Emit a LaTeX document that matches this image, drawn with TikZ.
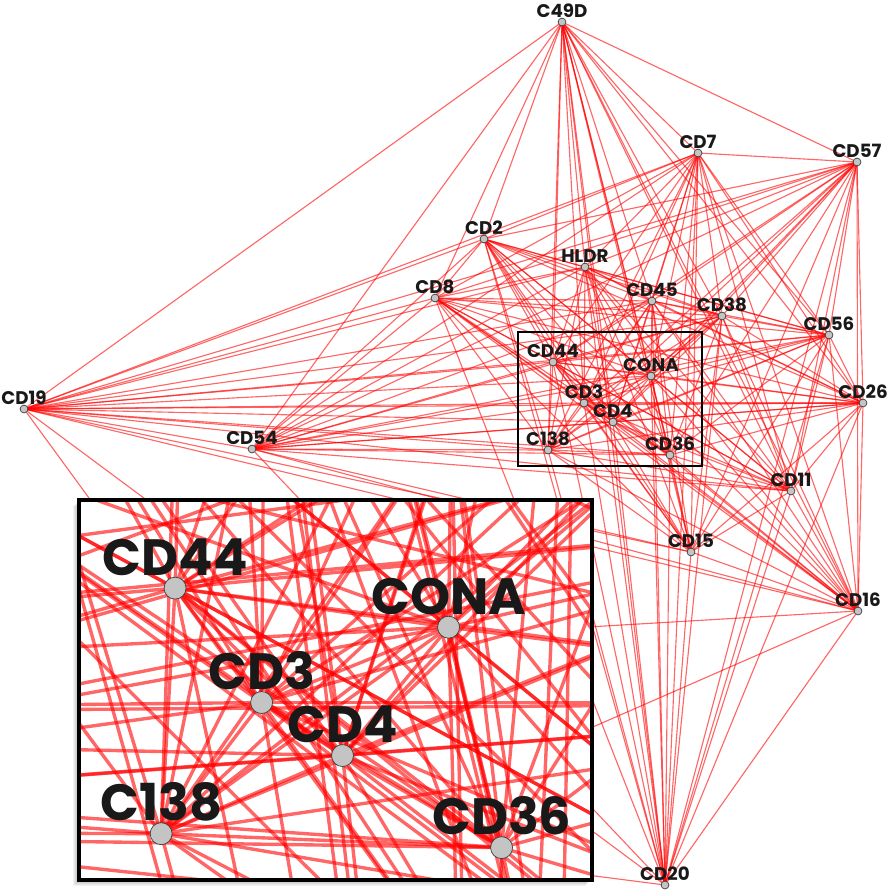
\documentclass[tikz,border=0pt]{standalone}
\usepackage{fontspec}
\setmainfont{Poppins}

\definecolor{dotgray}{RGB}{196,196,196}
\definecolor{rimgray}{RGB}{55,65,65}
\tikzset{
	link/.style={red, opacity=0.6},
	vertex/.style={circle, draw=rimgray, fill=dotgray, line width=0.5pt, minimum size=5.6pt, inner sep=0pt, label distance=1.5pt},
	tag/.style={font=\bfseries\fontsize{13}{13}\selectfont, inner sep=0pt, text=black!90}
}

\def\cdlist{C49D,CD7,CD57,CD2,HLDR,CD8,CD45,CD38,CD56,CD44,CONA,CD19,CD26,CD3,CD4,CD54,C138,CD36,CD11,CD15,CD16,CD20}
\def\zoomlist{CD44,CONA,CD3,CD4,C138,CD36}

% places of the markers
\newcommand{\cdplace}{%
	\coordinate (C49D) at (562,22);
	\coordinate (CD7) at (698,153);
	\coordinate (CD57) at (857,162);
	\coordinate (CD2) at (484,239);
	\coordinate (HLDR) at (585,267);
	\coordinate (CD8) at (435,298);
	\coordinate (CD45) at (652,301);
	\coordinate (CD38) at (722,316);
	\coordinate (CD56) at (829,335);
	\coordinate (CD44) at (553,362);
	\coordinate (CONA) at (651,376);
	\coordinate (CD19) at (24,409);
	\coordinate (CD26) at (863,403);
	\coordinate (CD3) at (584,403);
	\coordinate (CD4) at (613,422);
	\coordinate (CD54) at (252,449);
	\coordinate (C138) at (548,450);
	\coordinate (CD36) at (670,455);
	\coordinate (CD11) at (791,491);
	\coordinate (CD15) at (691,552);
	\coordinate (CD16) at (858,611);
	\coordinate (CD20) at (665,885);
	\coordinate (H1) at (330,842);
	\coordinate (H2) at (200,650);
}

% every pair linked, #1 = width of the links
\newcommand{\cdlinks}[1]{%
	\foreach \a [count=\i] in \cdlist {
		\foreach \b [count=\j] in \cdlist {
			\ifnum\j>\i \draw[link, line width=#1] (\a) -- (\b); \fi
		}
	}
	\foreach \a/\b in {H2/CD19,H2/CD16,H1/CD16,H1/CD20}
		\draw[link, line width=#1] (\a) -- (\b);
}

% markers with their names
\newcommand{\cdspots}[1]{%
	\foreach \a in #1
		\node[vertex, label={[tag]above:\a}] (n\a) at (\a) {};
}

\begin{document}
\begin{tikzpicture}[x=0.025cm, y=-0.025cm]
	\useasboundingbox (0,0) rectangle (890,895);

	\cdplace
	\cdlinks{0.8pt}
	\cdspots{\cdlist}

	\draw[line width=2pt] (518,332) rectangle (702,466);

	% zoomed part
	\foreach \k in {1,...,6}
		\fill[black, opacity=0.05] (79-\k,500+\k) rectangle (592-\k,880+\k);
	\fill[white] (79,500) rectangle (592,880);
	\begin{scope}
		\clip (79,500) rectangle (592,880);
		\begin{scope}[shift={(-1368,-422)}, scale=2.79, transform shape]
			\cdplace
			\cdlinks{2.4pt}
			\cdspots{\zoomlist}
		\end{scope}
	\end{scope}
	\draw[line width=2.2pt] (79,500) rectangle (592,880);

\end{tikzpicture}
\end{document}
